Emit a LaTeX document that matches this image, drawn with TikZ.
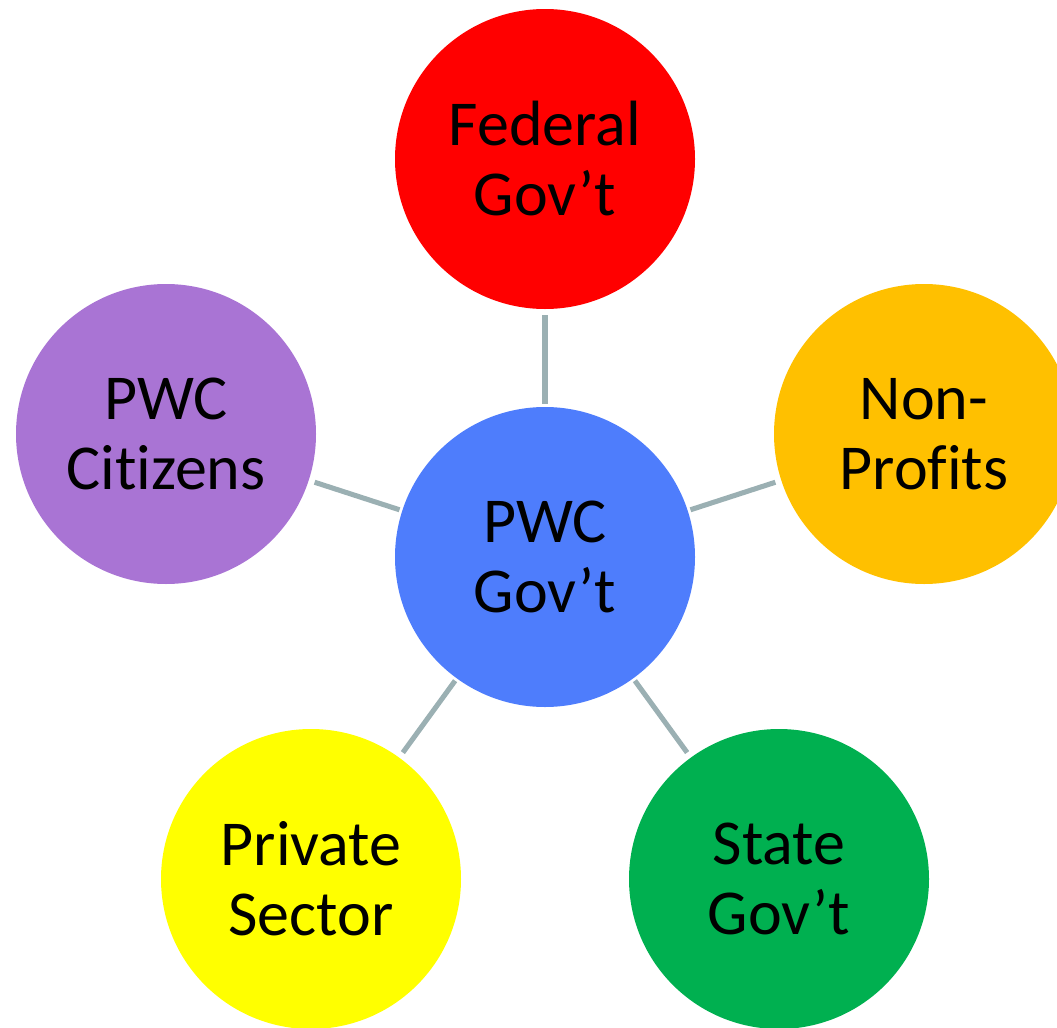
\documentclass[tikz,border=0pt]{standalone}
\usepackage{fontspec}
\setmainfont{Carlito}[Ligatures=CommonOff]
\definecolor{cred}{RGB}{255,0,0}
\definecolor{corange}{RGB}{255,192,0}
\definecolor{cgreen}{RGB}{0,176,80}
\definecolor{cyellow}{RGB}{255,255,0}
\definecolor{cpurple}{RGB}{169,116,212}
\definecolor{cblue}{RGB}{78,125,252}
\definecolor{clink}{RGB}{155,176,179}
\begin{document}
\begin{tikzpicture}[x=0.75pt,y=-0.75pt,
  bubble/.style={circle,minimum size=225pt,inner sep=0pt,align=center,
    font=\fontsize{48}{52.5}\selectfont,text=black},
  link/.style={draw=clink,line width=3.8pt,shorten <=4.5pt,shorten >=2pt}]
\useasboundingbox (0,0) rectangle (1057,1028);
\clip (0,0) rectangle (1057,1028);
\node[bubble,fill=cblue]   (pwc) at (545,557) {PWC\\Gov’t};
\node[bubble,fill=cred]    (fed) at (545,159) {Federal\\Gov’t};
\node[bubble,fill=corange] (non) at (924,434) {Non-\\Profits};
\node[bubble,fill=cgreen]  (sta) at (779,879) {State\\Gov’t};
\node[bubble,fill=cyellow] (pri) at (311,879) {Private\\Sector};
\node[bubble,fill=cpurple] (cit) at (166,434) {PWC\\Citizens};
\draw[link] (fed) -- (pwc);
\draw[link] (non) -- (pwc);
\draw[link] (sta) -- (pwc);
\draw[link] (pri) -- (pwc);
\draw[link] (cit) -- (pwc);
\end{tikzpicture}
\end{document}
